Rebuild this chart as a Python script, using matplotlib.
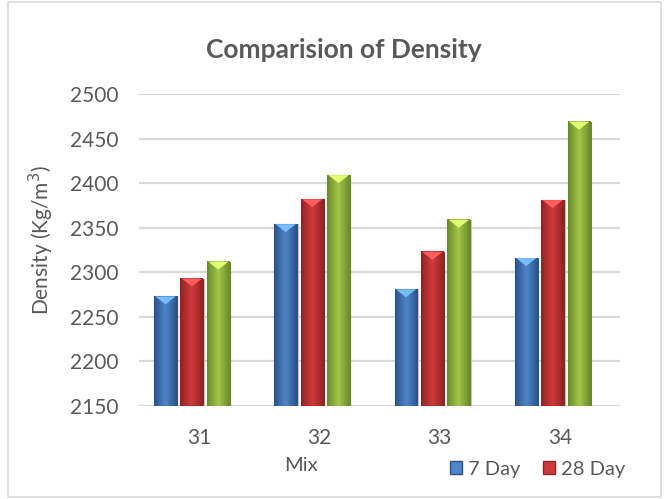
import numpy as np
import matplotlib
matplotlib.use("Agg")
import matplotlib.pyplot as plt
from matplotlib.colors import LinearSegmentedColormap, to_rgb
from matplotlib.patches import Rectangle, Polygon

plt.rcParams['font.family'] = ['Lato', 'DejaVu Sans']

mixes = ['31', '32', '33', '34']
day7 = [2273, 2354, 2281, 2316]
day28 = [2293, 2382, 2323, 2381]
day_late = [2312, 2409, 2359, 2469]

series = [
    (day7, '7 Day', ('#2a5288', '#4f86c9', '#2a5288')),
    (day28, '28 Day', ('#8e2424', '#d13a3b', '#8e2424')),
    (day_late, None, ('#6a8a2a', '#a3c64a', '#6a8a2a')),
]
offsets = [-0.28, -0.06, 0.16]
width = 0.19
ymin, ymax = 2150, 2500
txt = '#595959'

fig = plt.figure(figsize=(6.64, 4.99), dpi=100)
fig.patches.append(Rectangle((0.012, 0.004), 0.984, 0.992, transform=fig.transFigure,
                             fill=False, edgecolor='#d9d9d9', lw=1.2))
ax = fig.add_axes([0.2093, 0.1864, 0.7244, 0.6252])
ax.set_xlim(-0.5, 3.5)
ax.set_ylim(ymin, ymax)

for y in np.arange(2150, 2501, 50):
    ax.axhline(y, color='#d9d9d9', lw=1.6, zorder=0)

grad = np.linspace(0, 1, 64).reshape(1, -1)
for (vals, lab, cols), off in zip(series, offsets):
    cmap = LinearSegmentedColormap.from_list('b', cols)
    light = tuple(min(1, c * 1.25 + 0.08) for c in to_rgb(cols[1]))
    for i, v in enumerate(vals):
        x0 = i + off - width / 2
        x1 = i + off + width / 2
        # soft shadow to the right of the bar
        ax.add_patch(Rectangle((x1, ymin), 0.012, v - ymin, color='#c8c8c8', lw=0, zorder=1))
        ax.imshow(grad, cmap=cmap, extent=[x0, x1, ymin, v], aspect='auto', zorder=2,
                  interpolation='bicubic')
        ax.add_patch(Rectangle((x0, ymin), width, v - ymin, fill=False,
                               edgecolor=cols[0], lw=0.8, zorder=3))
        # bevelled top
        ax.add_patch(Polygon([(x0 + 0.01, v), (x1 - 0.01, v), (i + off, v - 9)],
                             closed=True, color=light, lw=0, zorder=3))

ax.set_xlim(-0.5, 3.5)
ax.set_ylim(ymin, ymax)
for s in ax.spines.values():
    s.set_visible(False)
ax.set_xticks(range(len(mixes)))
ax.set_xticklabels(mixes)
ax.set_yticks(np.arange(2150, 2501, 50))
ax.tick_params(length=0, colors=txt, labelsize=15)
ax.tick_params(axis='y', pad=15)
ax.tick_params(axis='x', pad=16)

fig.text(0.518, 0.90, 'Comparision of Density', ha='center', va='center',
         fontsize=19, fontweight='bold', color=txt)
fig.text(0.063, 0.519, 'Density (Kg/m$^3$)', rotation=90, ha='center', va='center',
         fontsize=15, color=txt)
fig.text(0.453, 0.068, 'Mix', ha='center', va='center', fontsize=14.5, color=txt)

handles = [Rectangle((0, 0), 1, 1, facecolor=s[2][1], edgecolor=s[2][0]) for s in series[:2]]
fig.legend(handles, [s[1] for s in series[:2]], loc='center', bbox_to_anchor=(0.81, 0.06),
           ncol=2, frameon=False, fontsize=14.5, labelcolor=txt, handlelength=0.6,
           handleheight=0.6, handletextpad=0.3, columnspacing=1.1)

fig.savefig('out.png', dpi=100)
